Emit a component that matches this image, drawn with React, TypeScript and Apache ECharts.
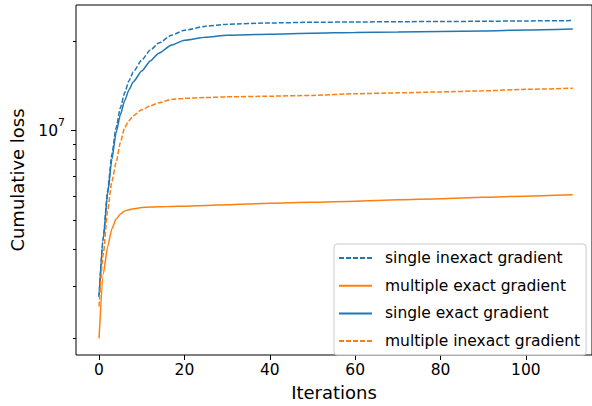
import React, { useEffect, useRef } from "react";
import * as echarts from "echarts";

const iterations = [0, 1, 2, 3, 4, 5, 6, 7, 8, 10, 12, 14, 17, 20, 25, 30, 40, 50, 60, 70, 80, 90, 100, 111];
const singleInexact = [2.76e6, 4.39e6, 6.25e6, 8.31e6, 1.023e7, 1.194e7, 1.34e7, 1.47e7, 1.575e7, 1.728e7, 1.866e7, 1.97e7, 2.095e7, 2.177e7, 2.245e7, 2.28e7, 2.303e7, 2.315e7, 2.321e7, 2.326e7, 2.329e7, 2.333e7, 2.34e7, 2.346e7];
const multipleExact = [2.0e6, 3.3e6, 4.06e6, 4.67e6, 5.04e6, 5.24e6, 5.36e6, 5.42e6, 5.46e6, 5.51e6, 5.53e6, 5.54e6, 5.56e6, 5.57e6, 5.6e6, 5.63e6, 5.7e6, 5.74e6, 5.79e6, 5.85e6, 5.9e6, 5.97e6, 6.02e6, 6.08e6];
const singleExact = [2.76e6, 4.32e6, 6.11e6, 8.0e6, 9.85e6, 1.131e7, 1.26e7, 1.371e7, 1.458e7, 1.587e7, 1.715e7, 1.823e7, 1.94e7, 2.016e7, 2.063e7, 2.095e7, 2.111e7, 2.127e7, 2.139e7, 2.147e7, 2.157e7, 2.165e7, 2.181e7, 2.198e7];
const multipleInexact = [2.56e6, 3.85e6, 5.36e6, 6.75e6, 7.82e6, 9.12e6, 1.023e7, 1.08e7, 1.122e7, 1.175e7, 1.212e7, 1.241e7, 1.275e7, 1.284e7, 1.292e7, 1.299e7, 1.306e7, 1.314e7, 1.331e7, 1.34e7, 1.35e7, 1.361e7, 1.377e7, 1.389e7];

const xTicks = [0, 20, 40, 60, 80, 100];
const yMinorTicks = [2e6, 3e6, 4e6, 5e6, 6e6, 7e6, 8e6, 9e6, 2e7];
const yMajorTicks = [1e7];

const BLUE = "#1f77b4";
const ORANGE = "#ff7f0e";
const FONT = "DejaVu Sans";
const Y_MIN = 1.758e6;
const Y_MAX = 2.647e7;

export default function App() {
  const ref = useRef<HTMLDivElement>(null);
  useEffect(() => {
    if (!ref.current) return;
    const chart = echarts.init(ref.current, null, { renderer: "svg" });
    const mk = (name: string, arr: number[], color: string, dashed: boolean) => ({
      name,
      type: "line",
      yAxisIndex: 0,
      data: iterations.map((x, i) => [x, arr[i]]),
      symbol: "none",
      showSymbol: false,
      smooth: 0.2,
      smoothMonotone: "x",
      lineStyle: { color, width: 1.5, type: dashed ? [5, 2] : "solid" },
      itemStyle: { color },
    });
    chart.setOption({
      animation: false,
      backgroundColor: "#fff",
      textStyle: { fontFamily: FONT },
      grid: { left: 75, top: 5, right: -1, bottom: 50, show: true, borderColor: "#000", borderWidth: 1 },
      xAxis: {
        type: "value",
        min: -5.4,
        max: 115.5,
        axisLine: { show: false, onZero: false },
        splitLine: { show: false },
        axisTick: { show: true, length: 5, lineStyle: { color: "#000" }, customValues: xTicks },
        axisLabel: { customValues: xTicks, fontSize: 15.5, color: "#000", margin: 7, fontFamily: FONT },
        name: "Iterations",
        nameLocation: "middle",
        nameGap: 28,
        nameTextStyle: { fontSize: 18, color: "#000", fontFamily: FONT },
      },
      yAxis: [
        {
          type: "log",
          min: Y_MIN,
          max: Y_MAX,
          axisLine: { show: false, onZero: false },
          splitLine: { show: false },
          minorTick: { show: false },
          axisTick: { show: true, length: 3, lineStyle: { color: "#000" }, customValues: yMinorTicks },
          axisLabel: { show: false },
          name: "Cumulative loss",
          nameLocation: "middle",
          nameGap: 50,
          nameTextStyle: { fontSize: 18, color: "#000", fontFamily: FONT },
        },
        {
          type: "log",
          min: Y_MIN,
          max: Y_MAX,
          position: "left",
          axisLine: { show: false, onZero: false },
          splitLine: { show: false },
          minorTick: { show: false },
          axisTick: { show: true, length: 5, lineStyle: { color: "#000" }, customValues: yMajorTicks },
          axisLabel: {
            customValues: yMajorTicks,
            margin: 11,
            formatter: () => "{b|10}{s|7}",
            rich: {
              b: { fontSize: 15.5, color: "#000", fontFamily: FONT, verticalAlign: "middle" },
              s: { fontSize: 11, color: "#000", fontFamily: FONT, verticalAlign: "top", padding: [0, 0, 17, 0] },
            },
          },
        },
      ],
      legend: {
        orient: "vertical",
        left: 334,
        top: 244,
        itemWidth: 33,
        itemHeight: 14,
        itemGap: 11.7,
        padding: [6, 6, 6, 4],
        backgroundColor: "rgba(255,255,255,0.8)",
        borderColor: "#cccccc",
        borderWidth: 1,
        borderRadius: 3,
        itemStyle: { opacity: 0 },
        textStyle: { fontSize: 15.5, color: "#000", fontFamily: FONT, padding: [0, 0, 0, 8] },
        data: ["single inexact gradient", "multiple exact gradient", "single exact gradient", "multiple inexact gradient"],
      },
      series: [
        mk("single inexact gradient", singleInexact, BLUE, true),
        mk("multiple exact gradient", multipleExact, ORANGE, false),
        mk("single exact gradient", singleExact, BLUE, false),
        mk("multiple inexact gradient", multipleInexact, ORANGE, true),
      ],
    });
    return () => chart.dispose();
  }, []);
  return (
    <div
      ref={ref}
      style={{ position: "fixed", left: 0, top: 0, width: 592, height: 406, background: "#fff" }}
    />
  );
}
